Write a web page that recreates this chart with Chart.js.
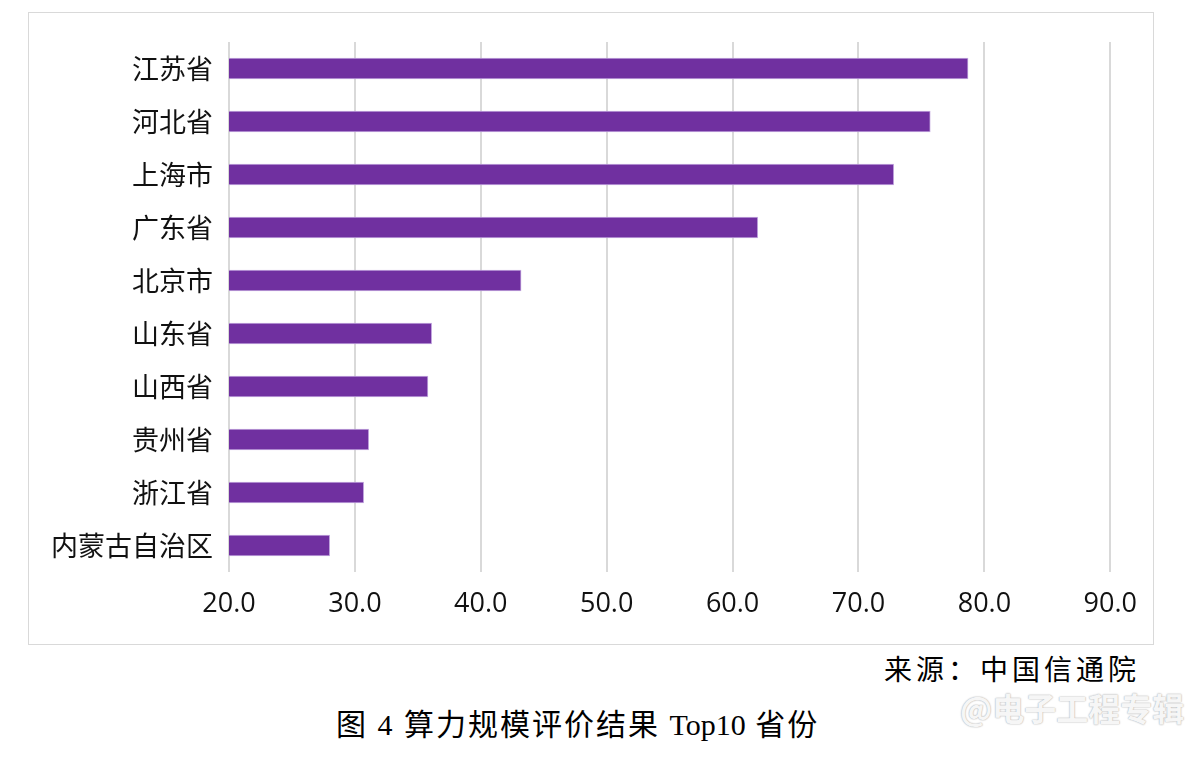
<!DOCTYPE html>
<html>
<head>
<meta charset="utf-8">
<script src="https://cdn.jsdelivr.net/npm/chart.js@4"></script>
<style>
  body { margin: 0; background: #fff; width: 1200px; height: 762px; position: relative; overflow: hidden; }
  #box { position: absolute; left: 28px; top: 12px; width: 1126px; height: 633px; border: 1px solid #d9d9d9; box-sizing: border-box; }
  #box canvas { display: block; }
  .txt { position: absolute; white-space: nowrap; color: #000; font-family: "Liberation Serif", "Noto Sans CJK SC", serif; }
  #source { right: 60px; top: 648px; font-size: 28px; letter-spacing: 4px; }
  #caption { left: 336px; top: 700px; font-size: 30px; letter-spacing: 2px; }
  #caption span { letter-spacing: 0; }
  #mark { left: 960px; top: 684px; font-size: 32px; font-family: "Noto Sans CJK SC", sans-serif; font-weight: bold;
          color: rgba(255,255,255,0.9); text-shadow: 0 0 2px #bbb, 0 0 1px #aaa; }
</style>
</head>
<body>
<div id="box"><canvas id="grafico" width="1124" height="631"></canvas></div>
<div class="txt" id="source">来源：中国信通院</div>
<div class="txt" id="caption">图 4 算力规模评价结果 <span>Top10</span> 省份</div>
<div class="txt" id="mark">@电子工程专辑</div>
<script>
// Dados
const provincias = ['江苏省', '河北省', '上海市', '广东省', '北京市', '山东省', '山西省', '贵州省', '浙江省', '内蒙古自治区'];
const valores = [78.7, 75.7, 72.8, 62.0, 43.2, 36.1, 35.8, 31.1, 30.7, 28.0];
const eixoMin = 20;
const eixoMax = 90;

const ctx = document.getElementById('grafico').getContext('2d');
const grafico = new Chart(ctx, {
    type: 'bar',
    data: {
        labels: provincias,
        datasets: [{
            data: valores,
            backgroundColor: '#7030A0',
            borderColor: 'rgba(190,160,220,0.9)',
            borderWidth: 1,
            borderSkipped: false,
            barThickness: 21
        }]
    },
    options: {
        indexAxis: 'y',
        responsive: false,
        animation: false,
        layout: { padding: { top: 29, right: 40, bottom: 0, left: 0 } },
        plugins: {
            legend: { display: false },
            tooltip: { enabled: false }
        },
        scales: {
            x: {
                min: eixoMin,
                max: eixoMax,
                ticks: {
                    stepSize: 10,
                    padding: 16,
                    color: '#111',
                    font: { family: '"Open Sans", "Noto Sans", sans-serif', size: 27 },
                    callback: v => v.toFixed(1)
                },
                grid: { color: '#d9d9d9', lineWidth: 2, drawTicks: false },
                border: { display: false },
                afterFit: scale => { scale.height = 72; }
            },
            y: {
                ticks: {
                    padding: 8,
                    color: '#111',
                    font: { family: '"Noto Sans CJK SC", sans-serif', size: 27 }
                },
                grid: { display: false },
                border: { display: false },
                afterFit: scale => { scale.width = 200; }
            }
        }
    }
});
</script>
</body>
</html>
